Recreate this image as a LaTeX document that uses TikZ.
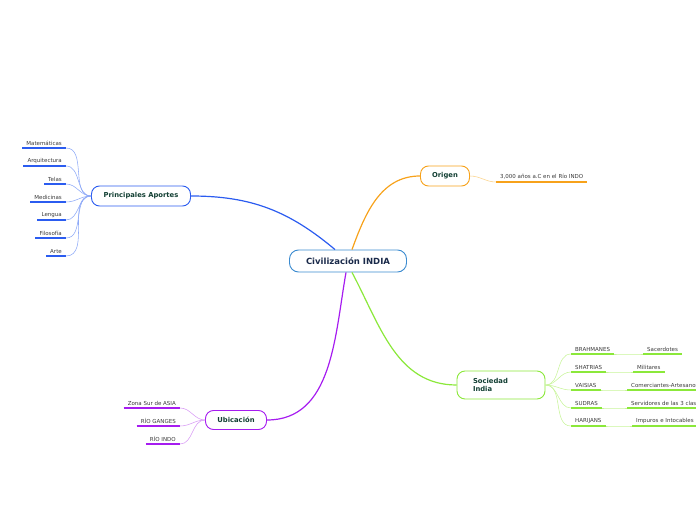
\documentclass[tikz,border=0pt]{standalone}
\usepackage{fontspec}
\setmainfont{DejaVu Sans}
\usetikzlibrary{positioning}
\definecolor{mainblue}{HTML}{3B8BD0}
\definecolor{aporte}{HTML}{2B5CF0}
\definecolor{aportelight}{HTML}{8EA9F7}
\definecolor{origen}{HTML}{F7A21B}
\definecolor{origenlight}{HTML}{FBD38A}
\definecolor{socied}{HTML}{8BE83A}
\definecolor{sociedlight}{HTML}{C8F49A}
\definecolor{ubic}{HTML}{A61CF0}
\definecolor{ubiclight}{HTML}{D89BF5}
\definecolor{topictext}{HTML}{123F33}
\definecolor{maintext}{HTML}{1A2A4A}
\definecolor{leaftext}{HTML}{3A3A3A}
\tikzset{
    central/.style={
        rectangle, draw=mainblue, fill=white, rounded corners=9pt,
        line width=0.9pt, text=maintext,
        font=\bfseries\fontsize{8.5}{10}\selectfont,
        minimum width=117pt, minimum height=22pt
    },
    topic/.style={
        rectangle, draw, fill=white, rounded corners=8pt,
        line width=0.9pt, text=topictext,
        font=\bfseries\fontsize{6.8}{8.5}\selectfont,
        minimum height=20pt
    },
    leaf/.style={
        text=leaftext, font=\fontsize{5.5}{6.5}\selectfont,
        inner xsep=4pt, inner ysep=2.5pt
    },
    branch/.style={
        line width=1.2pt
    },
    twig/.style={
        line width=0.55pt
    },
    uline/.style={
        line width=1.2pt
    }
}

\begin{document}
\begin{tikzpicture}[x=1pt, y=1pt]
        \useasboundingbox (0,0) rectangle (696,520);
        \clip (0,0) rectangle (696,520);

        \node[central] (main) at (348,259) {Civilización INDIA};

        % Principales Aportes

        \node[topic, draw=aporte, minimum width=99pt] (aportes) at (141,324) {Principales Aportes};

        \node[leaf, anchor=south east] (mat)  at (66,372) {Matemáticas};
        \node[leaf, anchor=south east] (arq)  at (66,354) {Arquitectura};
        \node[leaf, anchor=south east] (tel)  at (66,336) {Telas};
        \node[leaf, anchor=south east] (med)  at (66,318) {Medicinas};
        \node[leaf, anchor=south east] (len)  at (66,300) {Lengua};
        \node[leaf, anchor=south east] (fil)  at (66,282) {Filosofía};
        \node[leaf, anchor=south east] (art)  at (66,264) {Arte};

        \path ([xshift=-13pt]main.north) edge[branch, aporte, out=140, in=0] (aportes.east);
        \foreach \n in {mat, arq, tel, med, len, fil, art} {
            \draw[uline, aporte] (\n.south west) -- (\n.south east);
            \path (aportes.west) edge[twig, aportelight, out=180, in=0] (\n.south east);
        }

        % Origen

        \node[topic, draw=origen, minimum width=49pt] (origen) at (445,344) {Origen};
        \node[leaf, anchor=south west] (anos) at (496,338) {3,000 años a.C en el Río INDO};

        \draw[uline, origen] (anos.south west) -- (anos.south east);
        \path ([xshift=4pt]main.north) edge[branch, origen, out=70, in=180] (origen.west)
                (origen.east) edge[twig, origenlight, out=0, in=180] (anos.south west);

        % Sociedad India

        \node[topic, draw=socied, minimum width=88pt, minimum height=28pt, text width=56pt, align=left] (sociedad) at (501,135) {Sociedad\\India};

        \node[leaf, anchor=south west] (brah) at (571,166) {BRAHMANES};
        \node[leaf, anchor=south west] (shat) at (571,148) {SHATRIAS};
        \node[leaf, anchor=south west] (vais) at (571,130) {VAISIAS};
        \node[leaf, anchor=south west] (sudr) at (571,112) {SUDRAS};
        \node[leaf, anchor=south west] (hari) at (571,94)  {HARIJANS};

        \node[leaf, anchor=south west] (sace) at (643,166) {Sacerdotes};
        \node[leaf, anchor=south west] (mili) at (633,148) {Militares};
        \node[leaf, anchor=south west] (come) at (627,130) {Comerciantes-Artesanos};
        \node[leaf, anchor=south west] (serv) at (627,112) {Servidores de las 3 clases};
        \node[leaf, anchor=south west] (impu) at (632,94)  {Impuros e Intocables};

        \path ([xshift=4pt]main.south) edge[branch, socied, out=-62, in=180] (sociedad.west);
        \foreach \n/\m in {brah/sace, shat/mili, vais/come, sudr/serv, hari/impu} {
            \draw[uline, socied] (\n.south west) -- (\n.south east);
            \draw[uline, socied] (\m.south west) -- (\m.south east);
            \path (sociedad.east) edge[twig, sociedlight, out=0, in=180] (\n.south west)
                    (\n.south east) edge[twig, sociedlight, out=0, in=180] (\m.south west);
        }

        % Ubicacion

        \node[topic, draw=ubic, minimum width=61pt, minimum height=19pt] (ubic) at (236,100) {Ubicación};

        \node[leaf, anchor=south east] (zona)   at (180,112) {Zona Sur de ASIA};
        \node[leaf, anchor=south east] (ganges) at (180,94)  {RÍO GANGES};
        \node[leaf, anchor=south east] (indo)   at (180,76)  {RÍO INDO};

        \path ([xshift=-2pt]main.south) edge[branch, ubic, out=-100, in=0] (ubic.east);
        \foreach \n in {zona, ganges, indo} {
            \draw[uline, ubic] (\n.south west) -- (\n.south east);
            \path (ubic.west) edge[twig, ubiclight, out=180, in=0] (\n.south east);
        }
    \end{tikzpicture}
\end{document}
